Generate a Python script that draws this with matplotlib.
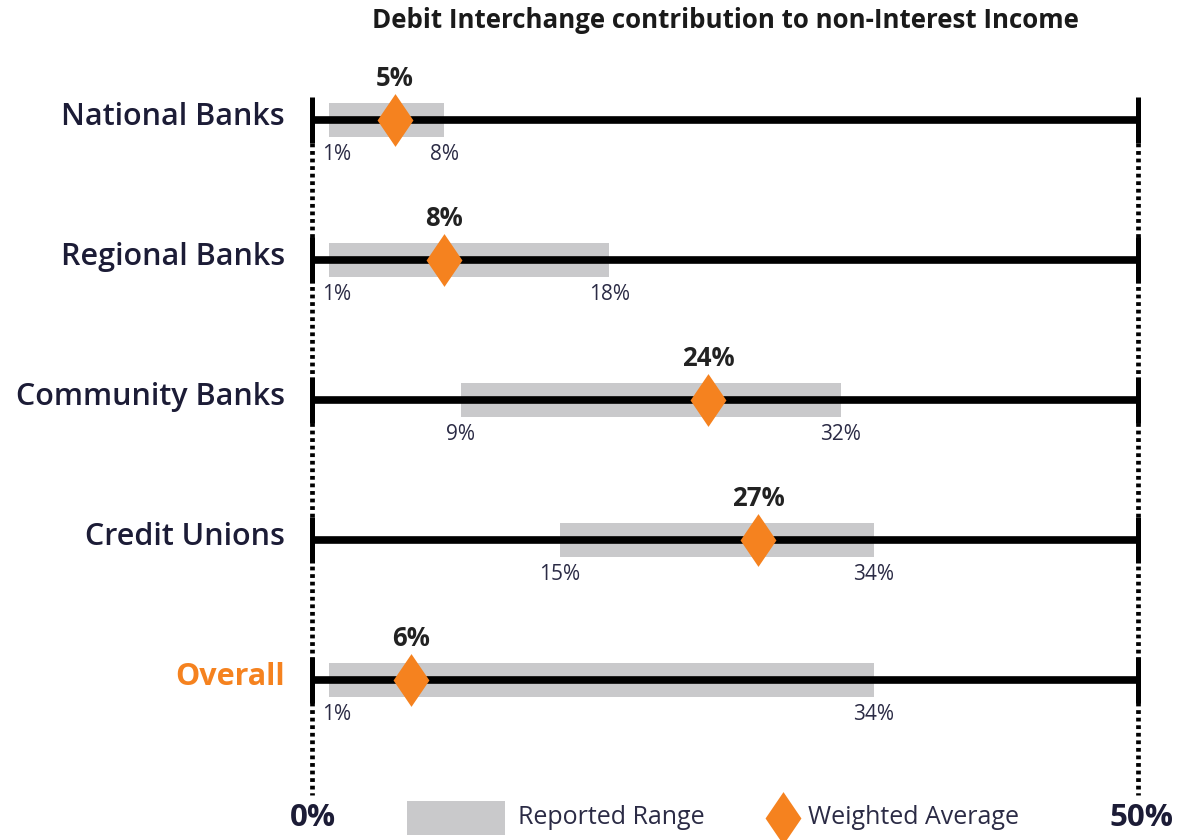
import matplotlib.pyplot as plt
from matplotlib.path import Path
from matplotlib.patches import Rectangle

# data
categories = ['National Banks', 'Regional Banks', 'Community Banks', 'Credit Unions', 'Overall']
range_low = [1, 1, 9, 15, 1]
range_high = [8, 18, 32, 34, 34]
weighted_avg = [5, 8, 24, 27, 6]
axis_min, axis_max = 0, 50

orange = '#f5821f'
gray = '#c9c9cb'
navy = '#2b2b45'
plt.rcParams['font.family'] = ['Open Sans', 'DejaVu Sans']

diamond = Path([(0, 1), (0.68, 0), (0, -1), (-0.68, 0), (0, 1)],
               [Path.MOVETO, Path.LINETO, Path.LINETO, Path.LINETO, Path.CLOSEPOLY])

fig = plt.figure(figsize=(11.81, 8.4), dpi=100)
ax = fig.add_axes([0, 0, 1, 1])
# pixel layout: 0% at x=312, 50% at x=1138
px = 826 / 50
ax.set_xlim(-312 / px, (1181 - 312) / px)
ax.set_ylim(840, 0)
ax.axis('off')

row_y = [120 + 140 * i for i in range(len(categories))]

# dotted vertical guides
for xv in (axis_min, axis_max):
    ax.plot([xv, xv], [143, 795], color='black', lw=3.4, ls=(0, (0.8, 0.8)),
            solid_capstyle='butt', dash_capstyle='butt', zorder=1)

for i, cat in enumerate(categories):
    y = row_y[i]
    ax.add_patch(Rectangle((range_low[i], y - 17), range_high[i] - range_low[i], 34,
                           color=gray, lw=0, zorder=2))
    ax.plot([axis_min, axis_max], [y, y], color='black', lw=5.5, solid_capstyle='butt', zorder=3)
    for xv in (axis_min, axis_max):
        ax.plot([xv, xv], [y - 23, y + 23], color='black', lw=3.6, solid_capstyle='butt', zorder=3)
    ax.plot(weighted_avg[i], y, marker=diamond, ms=38, color=orange, mec=orange, mew=0, zorder=4)
    ax.text(weighted_avg[i], y - 41, f'{weighted_avg[i]}%', ha='center', va='center',
            fontsize=18.5, fontweight='bold', color='#222222')
    # keep the low label clear of the dotted 0% guide
    ax.text(max(range_low[i], 1.5), y + 35, f'{range_low[i]}%', ha='center', va='center',
            fontsize=15, color=navy)
    ax.text(range_high[i], y + 35, f'{range_high[i]}%', ha='center', va='center',
            fontsize=15, color=navy)
    is_overall = cat == 'Overall'
    ax.text(-27 / px, y - 3, cat, ha='right', va='center', fontsize=22,
            fontweight='bold' if is_overall else 'semibold',
            color=orange if is_overall else '#1c1c36')

ax.text(725 / px - 312 / px, 20, 'Debit Interchange contribution to non-Interest Income',
        ha='center', va='center', fontsize=18.6, fontweight='bold', color='#1a1a1a')

ax.text(1 / px, 818, '0%', ha='center', va='center', fontsize=22.5, fontweight='bold', color='#1c1c36')
ax.text(axis_max + 3 / px, 818, '50%', ha='center', va='center', fontsize=22.5, fontweight='bold', color='#1c1c36')

# legend
ax.add_patch(Rectangle(((407 - 312) / px, 801), 98 / px, 34, color=gray, lw=0))
ax.text((518 - 312) / px, 818, 'Reported Range', ha='left', va='center', fontsize=18, color=navy)
ax.plot((783 - 312) / px, 818, marker=diamond, ms=38, color=orange, mew=0)
ax.text((808 - 312) / px, 818, 'Weighted Average', ha='left', va='center', fontsize=18, color=navy)

fig.savefig('out.png', dpi=100)
